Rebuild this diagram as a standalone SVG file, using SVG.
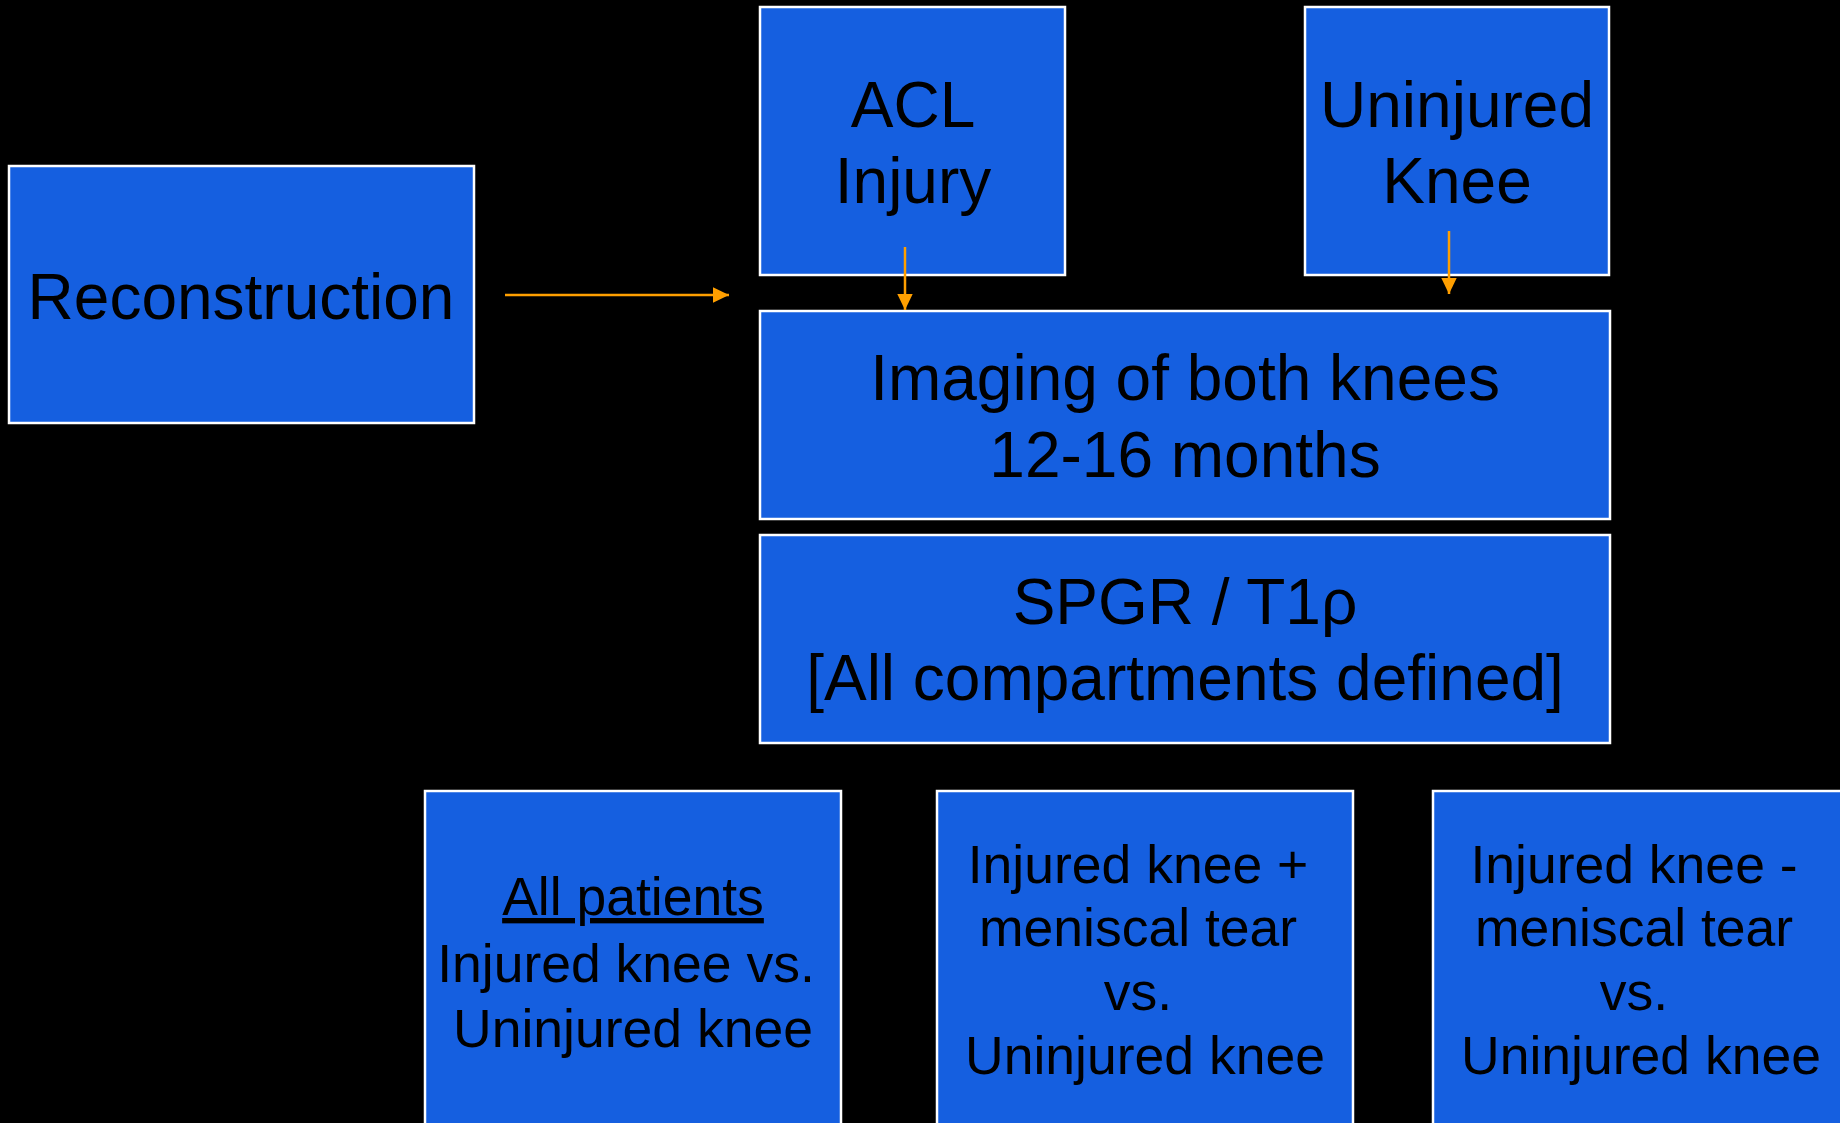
<svg xmlns="http://www.w3.org/2000/svg" width="1840" height="1123" viewBox="0 0 1840 1123">
<style>
.box{fill:#155FE0;stroke:#FFFFFF;stroke-width:2.5}
.t{font-family:"Liberation Sans",Arial,sans-serif;fill:#000000;text-anchor:middle}
.big{font-size:64px}
.mid{font-size:64px}
.sm{font-size:53.5px}
.conn{stroke:#FF9F00;stroke-width:2.5;fill:none}
</style>
<defs>
<marker id="ah" markerUnits="userSpaceOnUse" markerWidth="16" markerHeight="16" refX="16" refY="7.7" orient="auto">
<path d="M0,0 L16,7.7 L0,15.4 Z" fill="#FF9F00"/>
</marker>
</defs>
<rect x="0" y="0" width="1840" height="1123" fill="#000000"/>
<g id="reconstruction">
<rect class="box" x="9" y="166" width="465" height="257"/>
<text class="t big" x="241" y="319">Reconstruction</text>
</g>
<g id="acl-injury">
<rect class="box" x="760" y="7" width="305" height="268"/>
<text class="t big" x="913" y="127">ACL</text>
<text class="t big" x="913" y="203">Injury</text>
</g>
<g id="uninjured-knee">
<rect class="box" x="1305" y="7" width="304" height="268"/>
<text class="t big" x="1457" y="127">Uninjured</text>
<text class="t big" x="1457" y="203">Knee</text>
</g>
<g id="imaging">
<rect class="box" x="760" y="311" width="850" height="208"/>
<text class="t mid" x="1185" y="400">Imaging of both knees</text>
<text class="t mid" x="1185" y="477">12-16 months</text>
</g>
<g id="spgr">
<rect class="box" x="760" y="535" width="850" height="208"/>
<text class="t mid" x="1185" y="624">SPGR / T1ρ</text>
<text class="t mid" x="1185" y="700">[All compartments defined]</text>
</g>
<g id="all-patients">
<rect class="box" x="425" y="791" width="416" height="360"/>
<text class="t sm" x="633" y="915" text-decoration="underline">All patients</text>
<text class="t sm" x="626" y="982">Injured knee vs.</text>
<text class="t sm" x="633" y="1047">Uninjured knee</text>
</g>
<g id="injured-plus">
<rect class="box" x="937" y="791" width="416" height="360"/>
<text class="t sm" x="1138" y="883">Injured knee +</text>
<text class="t sm" x="1138" y="946">meniscal tear</text>
<text class="t sm" x="1138" y="1010">vs.</text>
<text class="t sm" x="1145" y="1074">Uninjured knee</text>
</g>
<g id="injured-minus">
<rect class="box" x="1433" y="791" width="416" height="360"/>
<text class="t sm" x="1634" y="883">Injured knee -</text>
<text class="t sm" x="1634" y="946">meniscal tear</text>
<text class="t sm" x="1634" y="1010">vs.</text>
<text class="t sm" x="1641" y="1074">Uninjured knee</text>
</g>
<g id="connectors">
<line class="conn" x1="505" y1="295" x2="729" y2="295" marker-end="url(#ah)"/>
<line class="conn" x1="905" y1="247" x2="905" y2="310" marker-end="url(#ah)"/>
<line class="conn" x1="1449" y1="231" x2="1449" y2="294" marker-end="url(#ah)"/>
</g>
</svg>
